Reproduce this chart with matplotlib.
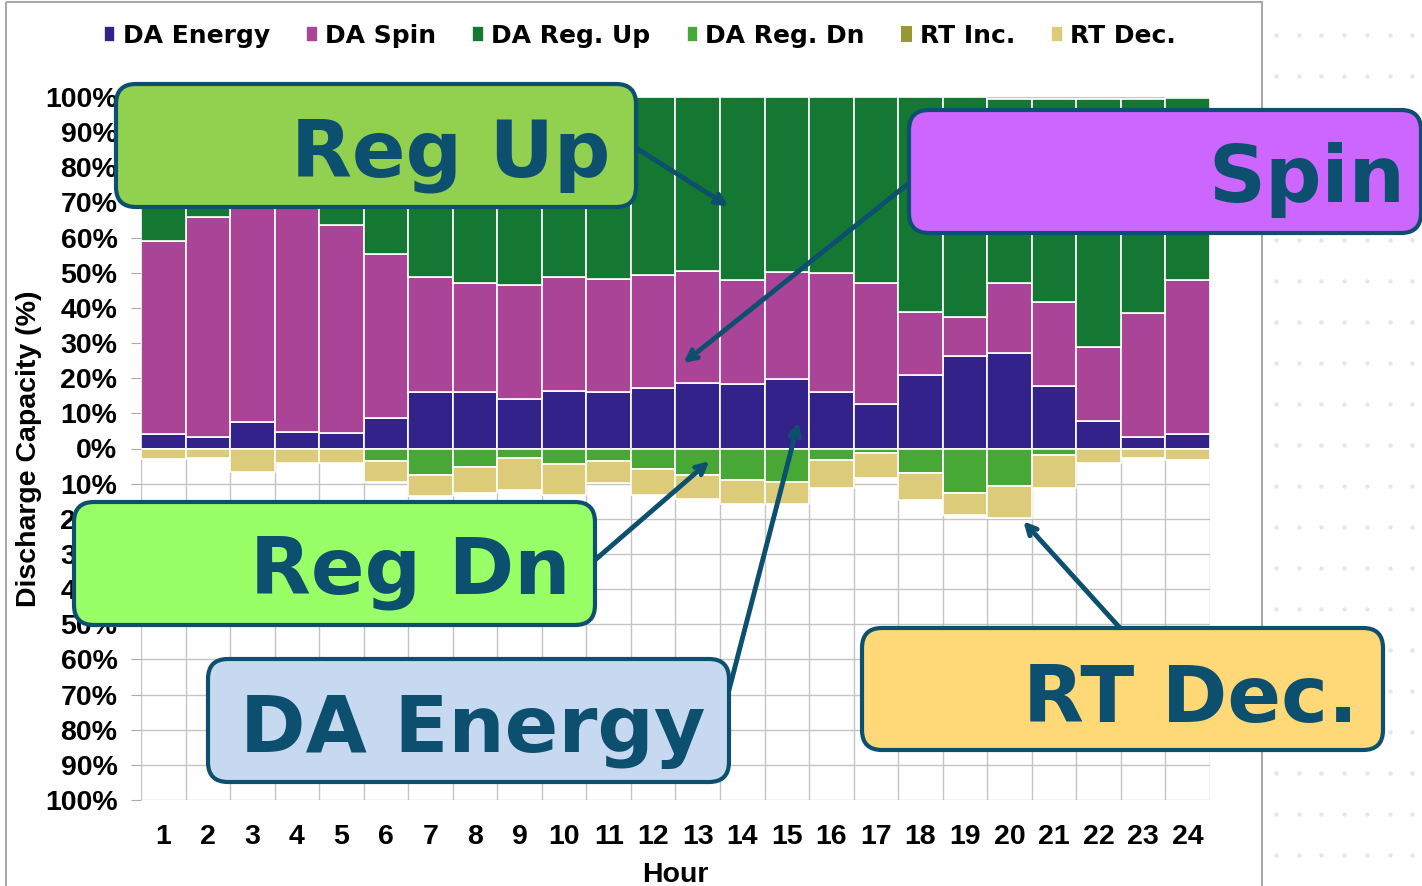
import numpy as np
import matplotlib.pyplot as plt
from matplotlib.patches import FancyBboxPatch, Rectangle

# hourly share of discharge capacity (%)
hours = list(range(1, 25))
da_energy = [4.0, 3.3, 7.4, 4.7, 4.3, 8.7, 16.1, 16.1, 14.0, 16.3, 16.1, 17.3,
             18.5, 18.3, 19.9, 16.1, 12.6, 20.9, 26.4, 27.1, 17.8, 7.8, 3.3, 4.0]
da_spin = [54.9, 62.5, 62.6, 65.3, 59.3, 46.7, 32.6, 30.9, 32.5, 32.6, 32.1, 32.1,
           32.1, 29.5, 30.4, 33.9, 34.4, 18.0, 10.9, 19.9, 24.0, 21.1, 35.3, 43.9]
da_reg_up = [41.1, 34.2, 30.0, 30.0, 36.4, 44.6, 51.3, 53.0, 53.5, 51.1, 51.8, 50.6,
             49.4, 52.2, 49.7, 50.0, 53.0, 61.1, 62.7, 52.4, 57.6, 70.5, 60.8, 51.8]
da_reg_dn = [0, 0, 0, 0, 0, 3.6, 7.4, 5.4, 2.6, 4.3, 3.6, 5.7,
             7.6, 9.0, 9.5, 3.3, 1.2, 7.1, 12.8, 10.7, 1.9, 0, 0, 0]
rt_inc = [0] * 24
rt_dec = [3.0, 2.6, 6.7, 4.0, 4.0, 5.9, 6.1, 7.4, 9.3, 9.0, 6.2, 7.6,
          6.8, 6.7, 6.2, 7.8, 7.3, 7.6, 6.2, 9.0, 9.2, 4.1, 2.6, 3.3]

labels = ['DA Energy', 'DA Spin', 'DA Reg. Up', 'DA Reg. Dn', 'RT Inc.', 'RT Dec.']
colors = ['#33228a', '#a94496', '#157832', '#47a836', '#999933', '#dccb79']

teal = '#0c4f6e'
W, H = 1422, 886

fig = plt.figure(figsize=(W / 100, H / 100), dpi=100)
ax = fig.add_axes([141 / W, 86 / H, 1069 / W, 703 / H])

x = np.array(hours)
e = np.array(da_energy)
s = np.array(da_spin)
u = np.array(da_reg_up)
d = np.array(da_reg_dn)
ri = np.array(rt_inc)
rd = np.array(rt_dec)

kw = dict(width=1.0, edgecolor='white', linewidth=1.2, zorder=3)
b1 = ax.bar(x, e, color=colors[0], **kw)
b2 = ax.bar(x, s, bottom=e, color=colors[1], **kw)
b3 = ax.bar(x, u, bottom=e + s, color=colors[2], **kw)
b4 = ax.bar(x, -d, color=colors[3], **kw)
b5 = ax.bar(x, -ri, bottom=-d, color=colors[4], width=1.0, linewidth=0, zorder=3)
b6 = ax.bar(x, -rd, bottom=-d - ri, color=colors[5], **kw)

ax.set_xlim(0.5, 24.5)
ax.set_ylim(-100, 100)
ax.set_xticks(x)
ax.set_xticks(np.arange(0.5, 25, 1), minor=True)
yt = np.arange(-100, 101, 10)
ax.set_yticks(yt)
ax.set_yticklabels([f'{abs(v)}%' for v in yt])
ax.grid(True, which='minor', axis='x', color='#c4c4c4', lw=1, zorder=0)
ax.grid(True, which='major', axis='y', color='#c4c4c4', lw=1, zorder=0)
for sp in ax.spines.values():
    sp.set_visible(False)
ax.tick_params(axis='x', which='both', length=0, pad=17)
ax.tick_params(axis='y', length=7, color='#aaaaaa', pad=10)
for t in ax.get_xticklabels() + ax.get_yticklabels():
    t.set_fontfamily('Liberation Sans')
    t.set_fontweight('bold')
    t.set_fontsize(20.5)
ax.set_xlabel('Hour', fontsize=20.5, fontweight='bold', family='Liberation Sans', labelpad=9)
ax.set_ylabel('Discharge Capacity (%)', fontsize=20.5, fontweight='bold',
              family='Liberation Sans', labelpad=2)

fig.legend([b1, b2, b3, b4, b5, b6], labels, loc='center',
           bbox_to_anchor=(640 / W, 1 - 36 / H), ncol=6, frameon=False,
           prop=dict(weight='bold', size=18), handlelength=0.45, handleheight=0.6,
           handletextpad=0.3, columnspacing=1.45)

# overlay in image pixels for the callouts and the frame
ov = fig.add_axes([0, 0, 1, 1], zorder=10)
ov.set_xlim(0, W)
ov.set_ylim(H, 0)
ov.axis('off')
ov.patch.set_alpha(0)

ov.add_patch(Rectangle((6, 2), 1256, 890, fill=False, ec='#a8a8a8', lw=1.5))
gx, gy = np.meshgrid(np.arange(1276, 1420, 22.7), np.arange(35, 880, 41))
ov.scatter(gx.ravel(), gy.ravel(), s=10, marker='o', color='#e2e8ee', lw=0)

callouts = [
    ('Reg Up', 116, 84, 636, 207, '#92d050', 610, 176, (13.69, 68.9), (636, 148)),
    ('Spin', 909, 110, 1421, 233, '#cc66ff', 1405, 202, (12.68, 24.3), (909, 183)),
    ('Reg Dn', 74, 502, 595, 625, '#99ff66', 570, 594, (13.26, -3.6), (595, 560)),
    ('DA Energy', 208, 659, 729, 782, '#c6d9f1', 705, 752, (15.26, 7.5), (729, 690)),
    ('RT Dec.', 862, 628, 1383, 750, '#ffd878', 1358, 722, (20.31, -20.7), (1120, 628)),
]
for txt, x0, y0, x1, y1, fc, tx, ty, tip, start in callouts:
    ov.add_patch(FancyBboxPatch((x0, y0), x1 - x0, y1 - y0,
                                boxstyle='round,pad=0,rounding_size=20',
                                fc=fc, ec=teal, lw=3))
    ov.text(tx, ty, txt, ha='right', va='baseline', fontsize=57,
            fontweight='bold', color=teal, family='DejaVu Sans')
    ax.annotate('', xy=tip, xycoords='data',
                xytext=(start[0], H - start[1]), textcoords='figure pixels',
                arrowprops=dict(arrowstyle='->,head_length=0.7,head_width=0.35',
                                color=teal, lw=3.5, shrinkA=0, shrinkB=0),
                annotation_clip=False, zorder=5)

fig.savefig('out.png', dpi=100)
